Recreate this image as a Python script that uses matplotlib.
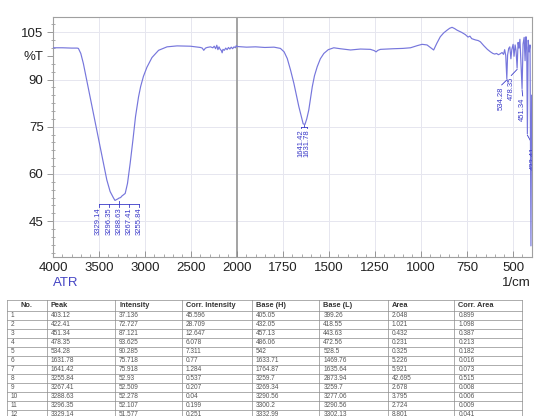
import numpy as np
import matplotlib
matplotlib.use('Agg')
import matplotlib.pyplot as plt

plt.rcParams['font.family'] = ['Liberation Sans', 'DejaVu Sans']

# spettro (cm-1, %T)
wavenumber = [4000, 3900, 3800, 3740, 3727, 3701, 3673, 3636, 3600, 3564, 3527, 3491,
              3455, 3418, 3382, 3346, 3329.14, 3309, 3296.35, 3288.63, 3267.41, 3255.84,
              3218, 3193, 3164, 3134, 3106, 3073, 3050, 3020, 2982, 2927, 2855, 2763, 2654,
              2509, 2400, 2380, 2364, 2345, 2327, 2291, 2265, 2250, 2235, 2222, 2210,
              2198, 2185, 2172, 2164, 2155, 2140, 2125, 2110, 2095, 2080, 2065, 2050,
              2035, 2020, 2010, 2000,
              1950, 1900, 1850, 1800, 1765, 1745, 1728, 1710, 1692, 1678, 1665, 1652,
              1641.42, 1636, 1631.78, 1622, 1611, 1600, 1592, 1580, 1565, 1548, 1529,
              1505, 1475, 1440, 1384, 1330, 1276, 1255, 1245, 1235, 1221, 1150, 1100,
              1058, 1020, 995, 968, 950, 932, 915, 896, 878, 859, 845, 832, 818, 805,
              780, 760, 745, 735, 725, 705, 690, 678, 660, 640, 623, 610,
              600, 590, 580, 570, 560, 552, 546, 540, 534.28, 530, 524, 518, 512, 507,
              500, 495, 489, 484, 478.35, 473, 468, 463, 458, 451.34, 446, 440, 435,
              430, 426, 422.41, 418, 413, 408, 403.12, 399.3]
transmittance = [100.1, 100.1, 100.0, 100.0, 99.9, 98.3, 95.1, 89.8, 84.5, 79.3, 74.0, 68.6,
                 63.4, 58.1, 54.4, 52.4, 51.577, 51.9, 52.107, 52.278, 52.509, 52.93,
                 53.8, 57.0, 63.4, 70.8, 78.2, 84.5, 87.8, 91.0, 93.9, 97.0, 99.3, 100.4, 100.7,
                 100.6, 100.2, 100.0, 99.3, 100.0, 100.2, 100.4, 100.1, 100.6, 99.8, 100.9, 99.5,
                 100.4, 99.6, 99.2, 98.5, 99.6, 99.3, 100.0, 99.5, 100.2, 99.7, 100.3, 99.8,
                 100.4, 100.1, 100.8, 100.5,
                 100.3, 100.4, 100.2, 100.3, 99.9, 98.8, 96.7, 93.0, 88.8, 85.0, 81.4, 78.3,
                 75.918, 75.8, 75.718, 77.5, 80.3, 84.5, 87.7, 91.2, 94.1, 96.6, 98.3,
                 99.5, 100.1, 99.8, 99.4, 99.7, 99.6, 99.2, 98.8, 99.3, 99.6, 99.8, 99.9,
                 100.1, 100.8, 101.2, 101.0, 100.2, 99.4, 101.5, 103.6, 104.8, 105.7, 106.3, 106.6, 106.2, 105.7,
                 105.0, 104.3, 103.5, 103.8, 103.0, 102.6, 102.4, 102.0, 100.8, 99.6, 98.8, 98.3,
                 98.1, 98.3, 97.9, 98.2, 98.6, 98.0, 99.5, 97.6, 90.285, 97.8, 99.9, 100.4, 96.6, 99.6,
                 101.2, 97.4, 101.0, 99.2, 93.625, 101.8, 100.0, 102.8, 95.8, 87.121, 101.3, 103.4, 96.0,
                 103.6, 100.2, 72.727, 102.5, 98.8, 101.0, 37.136, 85.0]

# tabella dei picchi
col_names = ['No.', 'Peak', 'Intensity', 'Corr. Intensity', 'Base (H)', 'Base (L)', 'Area', 'Corr. Area']
peak_no = ['1', '2', '3', '4', '5', '6', '7', '8', '9', '10', '11', '12']
peak = ['403.12', '422.41', '451.34', '478.35', '534.28', '1631.78', '1641.42',
        '3255.84', '3267.41', '3288.63', '3296.35', '3329.14']
intensity = ['37.136', '72.727', '87.121', '93.625', '90.285', '75.718', '75.918',
             '52.93', '52.509', '52.278', '52.107', '51.577']
corr_intensity = ['45.596', '28.709', '12.647', '6.078', '7.311', '0.77', '1.284',
                  '0.537', '0.207', '0.04', '0.199', '0.251']
base_h = ['405.05', '432.05', '457.13', '486.06', '542', '1633.71', '1764.87',
          '3259.7', '3269.34', '3290.56', '3300.2', '3332.99']
base_l = ['399.26', '418.55', '443.63', '472.56', '528.5', '1469.76', '1635.64',
          '2873.94', '3259.7', '3277.06', '3290.56', '3302.13']
area = ['2.048', '1.021', '0.432', '0.231', '0.325', '5.226', '5.921',
        '42.695', '2.678', '3.795', '2.724', '8.801']
corr_area = ['0.899', '1.098', '0.387', '0.213', '0.182', '0.016', '0.073',
             '0.515', '0.008', '0.006', '0.009', '0.041']

x_major = [4000, 3500, 3000, 2500, 2000, 1750, 1500, 1250, 1000, 750, 500]
y_labels = ['45', '60', '75', '90', '%T', '105']
y_ticks = [45, 60, 75, 90, 97.5, 105]

BLUE = '#3a3ac8'
LINE = '#7676dc'


def fwd(w):
    w = np.asarray(w, dtype=float)
    return np.where(w >= 2000, 2000 + (w - 2000) / 2.0, w)


def inv(u):
    u = np.asarray(u, dtype=float)
    return np.where(u >= 2000, 2000 + (u - 2000) * 2.0, u)


fig = plt.figure(figsize=(5.41, 4.16), dpi=100)
ax = fig.add_axes([0.0985, 0.383, 0.8843, 0.5755])
ax.set_xscale('function', functions=(fwd, inv))
ax.set_xlim(4000, 399)
ax.set_ylim(33.7, 109.8)

# griglia
for xv in x_major:
    if xv == 2000:
        ax.axvline(xv, color='#9c9c9c', lw=1.3, zorder=1)
    else:
        ax.axvline(xv, color='#e6e6ef', lw=0.7, zorder=0)
for yv in [45, 60, 75, 90, 105]:
    ax.axhline(yv, color='#e6e6ef', lw=0.7, zorder=0)

ax.plot(wavenumber, transmittance, color=LINE, lw=0.85, zorder=3)

# etichette dei picchi raggruppati
groups = [([3329.14, 3296.35, 3288.63, 3267.41, 3255.84], 110, 1.1, 2.3),
          ([1641.42, 1631.78], 36, 0.7, 1.4)]
for pk, spacing, d_bar, d_lab in groups:
    n = len(pk)
    tv = [transmittance[wavenumber.index(p)] for p in pk]
    center = np.mean(pk)
    lx = [center + spacing * ((n - 1) / 2.0 - i) for i in range(n)]
    ybar = min(tv) - d_bar
    ylab = min(tv) - d_lab
    ax.plot([center, center], [min(tv) - 0.3, ybar], color=BLUE, lw=0.6)
    ax.plot([lx[0], lx[-1]], [ybar, ybar], color=BLUE, lw=0.6)
    for x, p in zip(lx, pk):
        ax.plot([x, x], [ybar, ylab + 0.3], color=BLUE, lw=0.6)
        ax.text(x, ylab, '%.2f' % p, rotation=90, ha='center', va='top',
                fontsize=5.5, color=BLUE)

# etichette singole nella zona bassa (l'ultima e' tagliata dal bordo dell'asse)
single = [(534.28, 562, 87.8), (478.35, 510, 90.8), (451.34, 448, 84.3), (422.41, 392, 68.6)]
for p, lx, ly in single:
    tv = transmittance[wavenumber.index(p)]
    ax.plot([p, lx], [tv - 0.4, ly + 0.5], color=BLUE, lw=0.6)
    t = ax.text(lx, ly, '%.2f' % p, rotation=90, ha='center', va='top',
                fontsize=5.5, color=BLUE)
    t.set_clip_path(ax.patch)
    t.set_clip_on(True)

# assi
ax.set_xticks(x_major)
ax.set_xticklabels([str(v) for v in x_major])
minor = [v for v in range(3900, 2000, -100) if v not in x_major] + \
        [v for v in range(1950, 400, -50) if v not in x_major]
ax.set_xticks(minor, minor=True)
ax.set_yticks(y_ticks)
ax.set_yticklabels(y_labels)
ax.set_yticks(np.arange(35, 110, 2.5), minor=True)
ax.tick_params(axis='x', which='major', direction='in', length=4, width=0.6,
               color='#888888', labelsize=9.5, pad=4, labelcolor='#222222')
ax.tick_params(axis='x', which='minor', direction='in', length=2.5, width=0.5, color='#888888')
ax.tick_params(axis='y', which='major', direction='out', length=4, width=0.6,
               color='#888888', labelsize=9.5, pad=3, labelcolor='#222222')
ax.tick_params(axis='y', which='minor', direction='inout', length=3, width=0.5, color='#888888')
for s in ax.spines.values():
    s.set_color('#a0a0a0')
    s.set_linewidth(0.8)

fig.text(53 / 541, 1 - 283 / 416, 'ATR', color='#4545c4', fontsize=9.5, ha='left', va='center')
fig.text(531 / 541, 1 - 283 / 416, '1/cm', color='#222222', fontsize=9.5, ha='right', va='center')

# tabella (l'ultima riga e' tagliata dal bordo come nell'originale)
tab = fig.add_axes([0, 0, 1, 1])
tab.set_xlim(0, 541)
tab.set_ylim(416, 0)
tab.axis('off')
tab.patch.set_alpha(0)
col_edges = [6.7, 46.7, 115, 181.7, 251.7, 319.3, 387.7, 454.3, 522]
top, head_h, row_h = 300, 11.3, 9.0
columns = [peak_no, peak, intensity, corr_intensity, base_h, base_l, area, corr_area]
n_rows = len(peak)
bottom = top + head_h + row_h * n_rows
row_lines = [top, top + head_h] + [top + head_h + row_h * (i + 1) for i in range(n_rows)]
for y in row_lines:
    tab.plot([col_edges[0], col_edges[-1]], [y, y], color='#8c8c8c', lw=0.5)
for x in col_edges:
    tab.plot([x, x], [top, bottom], color='#8c8c8c', lw=0.5)
for j, name in enumerate(col_names):
    x0 = col_edges[j] + 4
    if j == 0:
        x0 = (col_edges[0] + col_edges[1]) / 2
    tab.text(x0, top + head_h / 2, name, fontsize=5.3, fontweight='bold', color='#333333',
             ha='center' if j == 0 else 'left', va='center')
    for i, val in enumerate(columns[j]):
        tab.text(col_edges[j] + 4, top + head_h + row_h * (i + 0.5), val, fontsize=4.7,
                 color='#555555', ha='left', va='center')

fig.savefig('out.png', dpi=100)
